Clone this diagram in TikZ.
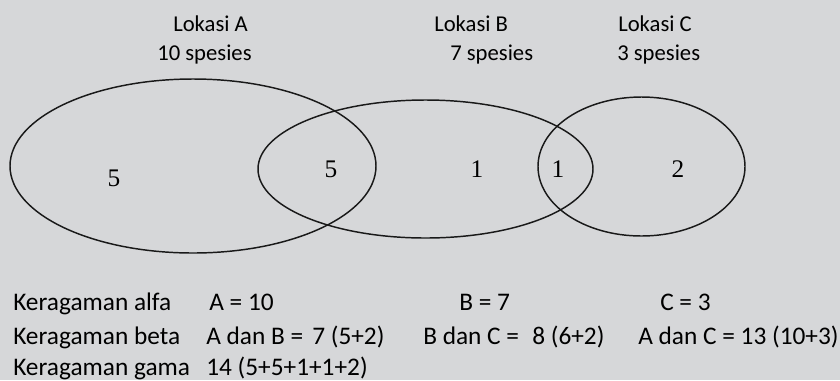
\documentclass[tikz,border=0pt]{standalone}
\usepackage{fontspec}
\setmainfont{Carlito}
\newfontfamily\numfont{Liberation Serif}
\definecolor{slidegray}{RGB}{214,215,217}

\begin{document}
\begin{tikzpicture}[x=0.75pt,y=-0.75pt,
    txt/.style={anchor=base west,inner sep=0pt,font=\fontsize{19}{23}\selectfont},
    site/.style={txt,font=\fontsize{17}{20}\selectfont},
    num/.style={inner sep=0pt,font=\numfont\fontsize{19}{22}\selectfont},
    venn/.style={draw=black!90,line width=1.1pt}]

  \fill[slidegray] (0,0) rectangle (840,380);

  % the three sites
  \draw[venn] (193,166) ellipse [x radius=183,y radius=87];
  \draw[venn] (425.5,169) ellipse [x radius=167.5,y radius=69];
  \draw[venn] (641.5,166.5) ellipse [x radius=103.5,y radius=69.5];

  \node[site] (lokA) at (173,31) {Lokasi A};
  \node[site] (sppA) at (157,60) {10 spesies};
  \node[site] (lokB) at (434,31) {Lokasi B};
  \node[site] (sppB) at (450,60) {7 spesies};
  \node[site] (lokC) at (618,31) {Lokasi C};
  \node[site] (sppC) at (617,60) {3 spesies};

  \node[num] (onlyA) at (114,178) {5};
  \node[num] (AB) at (331,169) {5};
  \node[num] (onlyB) at (477,169) {1};
  \node[num] (BC) at (558,169) {1};
  \node[num] (onlyC) at (678,169) {2};

  % diversity
  \node[txt] (alfa) at (13,310) {Keragaman alfa};
  \node[txt] (alfaA) at (209,310) {A = 10};
  \node[txt] (alfaB) at (459,310) {B = 7};
  \node[txt] (alfaC) at (660,310) {C = 3};

  \node[txt] (beta) at (13,344) {Keragaman beta};
  \node[txt] (betaAB) at (206,344) {A dan B =};
  \node[txt] (betaABv) at (312,344) {7 (5+2)};
  \node[txt] (betaBC) at (423,344) {B dan C =};
  \node[txt] (betaBCv) at (532,344) {8 (6+2)};
  \node[txt] (betaAC) at (638,344) {A dan C = 13 (10+3)};

  \node[txt] (gama) at (13,375) {Keragaman gama};
  \node[txt] (gamaV) at (206,375) {14 (5+5+1+1+2)};
\end{tikzpicture}
\end{document}
